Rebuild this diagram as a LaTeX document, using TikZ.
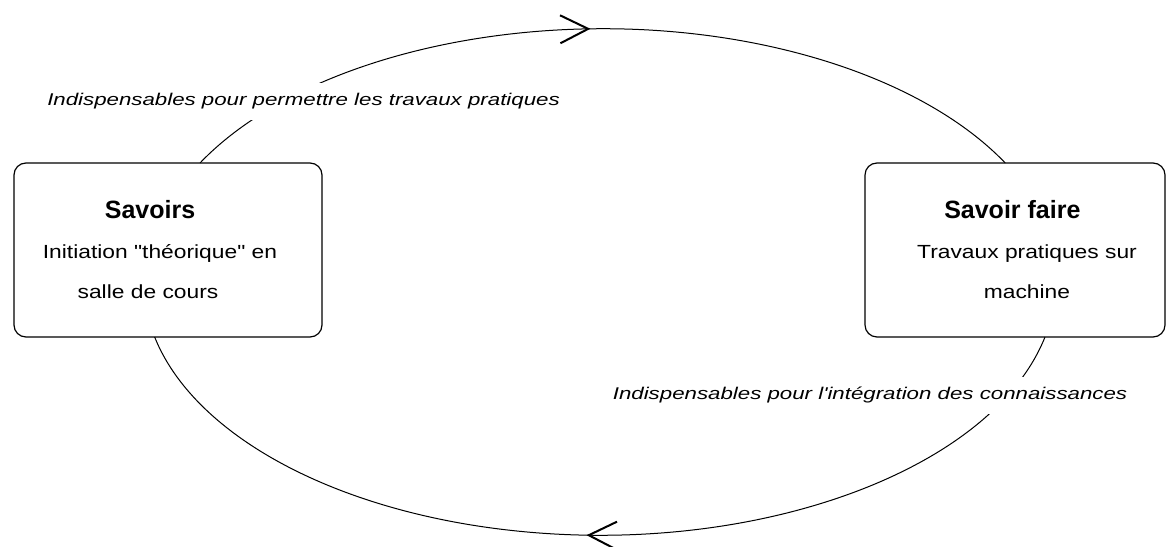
\documentclass[tikz,border=0pt]{standalone}
\usepackage{fontspec}
\setmainfont{Liberation Sans}
\newfontfamily\boxfont[FakeStretch = 1.2]{Liberation Sans}
\newfontfamily\linkfont[FakeStretch = 1.31]{Liberation Sans}
\usetikzlibrary{arrows.meta, decorations.markings}

\tikzset{
  phase/.style = {
    draw,
    rounded corners = 9pt,
    line width = .9pt,
    minimum width = 231pt,
    minimum height = 130.5pt,
    outer sep = 0pt,
    align = center,
    font = \boxfont\fontsize{14.25}{30}\selectfont
  },
  title/.style = {
    font = \rmfamily\bfseries\fontsize{18.75}{30}\selectfont
  },
  link/.style = {
    anchor = base,
    fill = white,
    inner xsep = 2pt,
    inner ysep = 8pt,
    font = \linkfont\itshape\fontsize{12.75}{15}\selectfont
  },
  loopline/.style = {
    line width = .75pt,
    postaction = {decorate},
    decoration = {
      markings,
      mark = at position #1 with
        {\arrow[line width = 1.5pt]{Straight Barb[length = 21pt, width = 21pt]}}
    }
  }
}

\begin{document}
\begin{tikzpicture}[x = .75pt, y = .75pt]
  \useasboundingbox (0,0) rectangle (1166,546);

  % The two boxes
  \node[phase] (sav) at (168,296)
    {\mbox{\rmfamily\bfseries\fontsize{18.75}{30}\selectfont Savoirs\kern 27pt}\\
     \mbox{Initiation "théorique" en\kern 12pt}\\
     \mbox{salle de cours\kern 30pt}};
  \node[phase, minimum width = 225pt] (sf) at (1015,296)
    {\mbox{\rmfamily\bfseries\fontsize{18.75}{30}\selectfont Savoir faire\kern 4pt}\\
     \mbox{\kern 18pt Travaux pratiques sur}\\
     \mbox{\kern 18pt machine}};

  % The two arcs between the boxes
  \draw[loopline = .486] ([xshift = 24pt]sav.north)
    arc[start angle = 152, end angle = 28, x radius = 342pt, y radius = 189.75pt];
  \draw[loopline = .513] ([xshift = 22.5pt]sf.south)
    arc[start angle = 347.5, end angle = 192.5, x radius = 342pt, y radius = 189.75pt];

  % The two labels, over the arcs
  \node[link] (up)   at (303.5,440) {Indispensables pour permettre les travaux pratiques};
  \node[link] (down) at (870,146)   {Indispensables pour l'intégration des connaissances};
\end{tikzpicture}
\end{document}
